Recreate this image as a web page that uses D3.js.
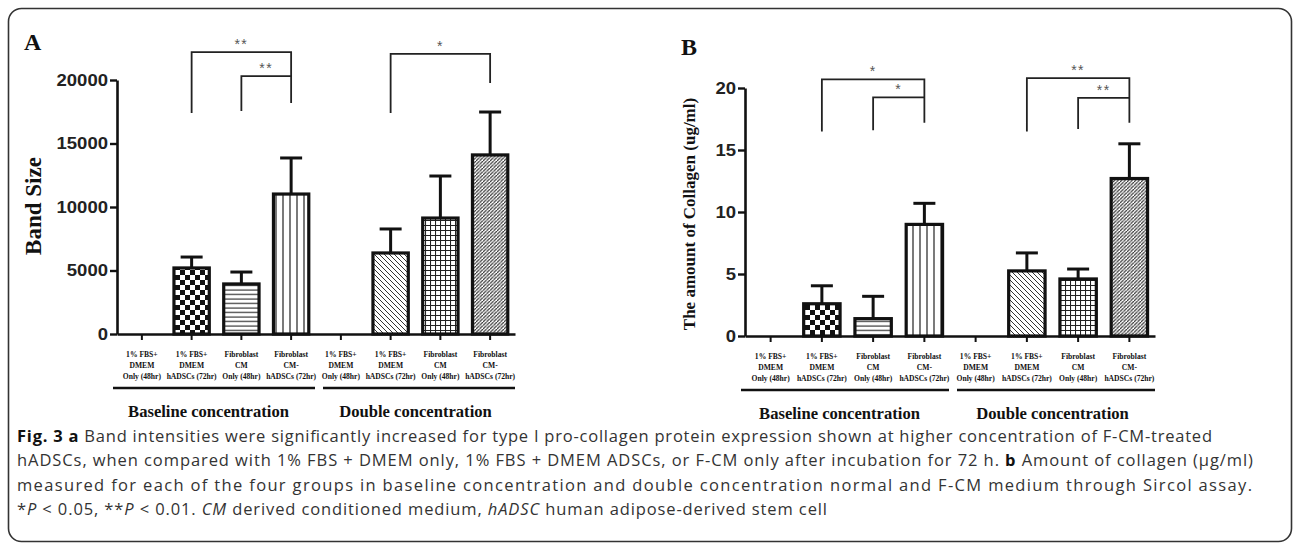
<!DOCTYPE html>
<html>
<head>
<meta charset="utf-8">
<script src="https://cdn.jsdelivr.net/npm/d3@7"></script>
<style>
  body { margin: 0; background: #fff; }
  svg { display: block; }
</style>
</head>
<body>
<div id="viz"></div>
<script>
// categories: same four treatments in each concentration group
const categories = [
  ['1% FBS+', 'DMEM', 'Only (48hr)'],
  ['1% FBS+', 'DMEM', 'hADSCs (72hr)'],
  ['Fibroblast', 'CM', 'Only (48hr)'],
  ['Fibroblast', 'CM-', 'hADSCs (72hr)'],
  ['1% FBS+', 'DMEM', 'Only (48hr)'],
  ['1% FBS+', 'DMEM', 'hADSCs (72hr)'],
  ['Fibroblast', 'CM', 'Only (48hr)'],
  ['Fibroblast', 'CM-', 'hADSCs (72hr)'],
];
const groups = ['Baseline concentration', 'Double concentration'];
const patterns = ['none', 'checker', 'hlines', 'vlines', 'none', 'bdiag', 'grid', 'fdiag'];

// panel A: band size
const bandMean = [0, 5200, 3940, 11020, 0, 6380, 9130, 14100];
const bandErr = [0, 860, 940, 2840, 0, 1890, 3310, 3380];
const bandTicks = [0, 5000, 10000, 15000, 20000];
const bandBrackets = [
  { from: 1, to: 3, top: 22200, left: 17400, right: 18190, label: '**' },
  { from: 2, to: 3, top: 20310, left: 17560, right: 20310, label: '**' },
  { from: 5, to: 7, top: 22050, left: 17400, right: 19760, label: '*' },
];

// panel B: collagen amount
const collMean = [0, 2.6, 1.4, 9.0, 0, 5.25, 4.6, 12.7];
const collErr = [0, 1.45, 1.8, 1.7, 0, 1.45, 0.8, 2.8];
const collTicks = [0, 5, 10, 15, 20];
const collBrackets = [
  { from: 1, to: 3, top: 20.7, left: 16.5, right: 17.2, label: '*' },
  { from: 2, to: 3, top: 19.25, left: 16.6, right: 19.25, label: '*' },
  { from: 5, to: 7, top: 20.8, left: 16.5, right: 17.2, label: '**' },
  { from: 6, to: 7, top: 19.2, left: 16.7, right: 19.2, label: '**' },
];

const width = 1295;
const height = 546;

const svg = d3.select('#viz').append('svg')
  .attr('width', width)
  .attr('height', height);

// hatch patterns
const defs = svg.append('defs');
const addPattern = (id, size, draw) => {
  const p = defs.append('pattern')
    .attr('id', id)
    .attr('patternUnits', 'userSpaceOnUse')
    .attr('width', size)
    .attr('height', size);
  p.append('rect').attr('width', size).attr('height', size).attr('fill', '#fff');
  draw(p, size);
};
addPattern('checker', 10, (p) => {
  p.append('rect').attr('width', 5).attr('height', 5).attr('fill', '#111');
  p.append('rect').attr('x', 5).attr('y', 5).attr('width', 5).attr('height', 5).attr('fill', '#111');
});
addPattern('hlines', 4.5, (p, s) => {
  p.append('line').attr('x1', 0).attr('x2', s).attr('y1', 2).attr('y2', 2)
    .attr('stroke', '#222').attr('stroke-width', 1.1);
});
addPattern('vlines', 7, (p, s) => {
  p.append('line').attr('y1', 0).attr('y2', s).attr('x1', 3).attr('x2', 3)
    .attr('stroke', '#222').attr('stroke-width', 1.2);
});
addPattern('bdiag', 5, (p, s) => {
  p.append('path').attr('d', `M0,0L${s},${s}M${-s},0L${s},${2 * s}M0,${-s}L${2 * s},${s}`)
    .attr('stroke', '#333').attr('stroke-width', 1);
});
addPattern('grid', 5, (p, s) => {
  p.append('path').attr('d', `M0,0.5H${s}M0.5,0V${s}`)
    .attr('stroke', '#222').attr('stroke-width', 1.1);
});
addPattern('fdiag', 3.5, (p, s) => {
  p.append('path').attr('d', `M0,${s}L${s},0M${-s},${s}L0,0M${s},${2 * s}L${2 * s},${s}`)
    .attr('stroke', '#333').attr('stroke-width', 1.2);
});

// frame
svg.append('rect')
  .attr('x', 8.5).attr('y', 8.5)
  .attr('width', 1283).attr('height', 533)
  .attr('rx', 13)
  .attr('fill', 'none')
  .attr('stroke', '#333')
  .attr('stroke-width', 1.6);

const drawPanel = function drawPanel(opt) {
  const g = svg.append('g');

  const x = d3.scaleBand()
    .domain(d3.range(categories.length))
    .range([opt.x0, opt.x1])
    .paddingInner(0.29)
    .paddingOuter(0.145);

  const y = d3.scaleLinear()
    .domain([0, opt.max])
    .range([opt.yBottom, opt.yTop]);

  // y axis
  const yAxis = g.append('g')
    .attr('transform', `translate(${opt.x0},0)`)
    .call(d3.axisLeft(y).tickValues(opt.ticks).tickFormat(d => String(d))
      .tickSize(7).tickSizeOuter(0).tickPadding(2));
  yAxis.select('.domain').attr('stroke', '#111').attr('stroke-width', 2.6);
  yAxis.selectAll('.tick line').attr('stroke', '#111').attr('stroke-width', 2.4);
  yAxis.selectAll('.tick text')
    .attr('fill', '#222')
    .style('font-family', 'Liberation Sans, Arial, sans-serif')
    .style('font-weight', 'bold')
    .style('font-size', '17px')
    .attr('textLength', d => String(d).length * 10.3)
    .attr('lengthAdjust', 'spacingAndGlyphs');

  // x axis
  const xAxis = g.append('g')
    .attr('transform', `translate(0,${opt.yBottom})`)
    .call(d3.axisBottom(x).tickSize(6).tickSizeOuter(0).tickFormat(''));
  xAxis.select('.domain').attr('stroke', '#111').attr('stroke-width', 2.6);
  xAxis.selectAll('.tick line').attr('stroke', '#111').attr('stroke-width', 2);

  // category labels
  const labels = g.selectAll('text.cat')
    .data(categories)
    .enter()
    .append('text')
    .attr('class', 'cat')
    .attr('text-anchor', 'middle')
    .attr('fill', '#111')
    .style('font-family', 'Liberation Serif, Times New Roman, serif')
    .style('font-weight', 'bold')
    .style('font-size', '7.6px');
  labels.selectAll('tspan')
    .data((d, i) => d.map(t => ({ t, i })))
    .enter()
    .append('tspan')
    .attr('x', d => x(d.i) + x.bandwidth() / 2)
    .attr('y', (d, j) => opt.yBottom + 23 + j * 11)
    .text(d => d.t);

  // group underlines + labels
  const step = x.step();
  const x0Band = i => opt.x0 + i * step;
  groups.forEach((name, gi) => {
    const first = gi * 4;
    const last = first + 3;
    const lx1 = x0Band(first) + (gi === 0 ? -4 : 7);
    const lx2 = x0Band(last) + step - (gi === 0 ? 1 : 0);
    g.append('line')
      .attr('x1', lx1).attr('x2', lx2)
      .attr('y1', opt.yBottom + 54).attr('y2', opt.yBottom + 54)
      .attr('stroke', '#111').attr('stroke-width', 2.4);
    g.append('text')
      .attr('x', (x0Band(first) + x0Band(last) + step) / 2 + (gi === 0 ? -8 : 0))
      .attr('y', opt.yBottom + 83)
      .attr('text-anchor', 'middle')
      .attr('fill', '#111')
      .style('font-family', 'Liberation Serif, Times New Roman, serif')
      .style('font-weight', 'bold')
      .style('font-size', '16.6px')
      .text(name);
  });

  // error bars (upper only)
  const errG = g.selectAll('g.err')
    .data(opt.mean.map((m, i) => ({ m, e: opt.err[i], i })).filter(d => d.m > 0))
    .enter()
    .append('g')
    .attr('class', 'err');
  errG.append('line')
    .attr('x1', d => x(d.i) + x.bandwidth() / 2)
    .attr('x2', d => x(d.i) + x.bandwidth() / 2)
    .attr('y1', d => y(d.m))
    .attr('y2', d => y(d.m + d.e))
    .attr('stroke', '#111')
    .attr('stroke-width', 3);
  errG.append('line')
    .attr('x1', d => x(d.i) + x.bandwidth() / 2 - 11)
    .attr('x2', d => x(d.i) + x.bandwidth() / 2 + 11)
    .attr('y1', d => y(d.m + d.e))
    .attr('y2', d => y(d.m + d.e))
    .attr('stroke', '#111')
    .attr('stroke-width', 3);

  // bars
  g.selectAll('rect.bar')
    .data(opt.mean.map((m, i) => ({ m, i })).filter(d => d.m > 0))
    .enter()
    .append('rect')
    .attr('class', 'bar')
    .attr('x', d => x(d.i))
    .attr('width', x.bandwidth())
    .attr('y', d => y(d.m))
    .attr('height', d => y(0) - y(d.m))
    .attr('fill', d => `url(#${patterns[d.i]})`)
    .attr('stroke', '#111')
    .attr('stroke-width', 3.2);

  // significance brackets
  const cx = i => x(i) + x.bandwidth() / 2;
  const br = g.selectAll('g.bracket')
    .data(opt.brackets)
    .enter()
    .append('g')
    .attr('class', 'bracket');
  br.append('path')
    .attr('d', d => `M${cx(d.from)},${y(d.left)}V${y(d.top)}H${cx(d.to)}V${y(d.right)}`)
    .attr('fill', 'none')
    .attr('stroke', '#222')
    .attr('stroke-width', 1.8);
  br.append('text')
    .attr('x', d => (cx(d.from) + cx(d.to)) / 2)
    .attr('y', d => y(d.top) - 3)
    .attr('text-anchor', 'middle')
    .attr('fill', '#555')
    .style('font-family', 'Liberation Sans, Arial, sans-serif')
    .style('font-size', '14px')
    .style('letter-spacing', '1.5px')
    .text(d => d.label);

  // y axis title
  g.append('text')
    .attr('transform', `translate(${opt.titleX},${opt.titleY}) rotate(-90)`)
    .attr('text-anchor', 'middle')
    .attr('fill', '#111')
    .style('font-family', 'Liberation Serif, Times New Roman, serif')
    .style('font-weight', 'bold')
    .style('font-size', opt.titleSize)
    .text(opt.title);

  // panel letter
  g.append('text')
    .attr('x', opt.letterX)
    .attr('y', opt.letterY)
    .attr('fill', '#111')
    .style('font-family', 'Liberation Serif, Times New Roman, serif')
    .style('font-weight', 'bold')
    .style('font-size', '24px')
    .text(opt.letter);
};

drawPanel({
  x0: 117, x1: 515, yBottom: 334, yTop: 80, max: 20000,
  ticks: bandTicks, mean: bandMean, err: bandErr, brackets: bandBrackets,
  title: 'Band Size', titleX: 41, titleY: 206, titleSize: '23px',
  letter: 'A', letterX: 24, letterY: 50,
});

drawPanel({
  x0: 745, x1: 1155, yBottom: 336, yTop: 88, max: 20,
  ticks: collTicks, mean: collMean, err: collErr, brackets: collBrackets,
  title: 'The amount of Collagen (ug/ml)', titleX: 695, titleY: 214, titleSize: '17px',
  letter: 'B', letterX: 681, letterY: 55,
});

// caption
const captionLines = [
  { y: 442, len: 1195, parts: [['b', 'Fig. 3 a'], ['', ' Band intensities were significantly increased for type I pro-collagen protein expression shown at higher concentration of F-CM-treated']] },
  { y: 466, len: 1236, parts: [['', 'hADSCs, when compared with 1% FBS + DMEM only, 1% FBS + DMEM ADSCs, or F-CM only after incubation for 72 h. '], ['b', 'b'], ['', ' Amount of collagen (μg/ml)']] },
  { y: 491, len: 1235, parts: [['', 'measured for each of the four groups in baseline concentration and double concentration normal and F-CM medium through Sircol assay.']] },
  { y: 515, len: 810, parts: [['', '*'], ['i', 'P'], ['', ' < 0.05, **'], ['i', 'P'], ['', ' < 0.01. '], ['i', 'CM'], ['', ' derived conditioned medium, '], ['i', 'hADSC'], ['', ' human adipose-derived stem cell']] },
];

const cap = svg.append('g')
  .style('font-family', 'Open Sans, Noto Sans, sans-serif')
  .style('font-size', '16.5px')
  .attr('fill', '#333');

captionLines.forEach((line) => {
  const t = cap.append('text')
    .attr('x', 17)
    .attr('y', line.y)
    .attr('xml:space', 'preserve');
  if (line.len) {
    t.attr('textLength', line.len).attr('lengthAdjust', 'spacing');
  }
  line.parts.forEach(([style, str]) => {
    t.append('tspan')
      .style('font-weight', style === 'b' ? 'bold' : null)
      .style('font-style', style === 'i' ? 'italic' : null)
      .attr('fill', style === 'b' ? '#111' : null)
      .text(str);
  });
});
</script>
</body>
</html>
